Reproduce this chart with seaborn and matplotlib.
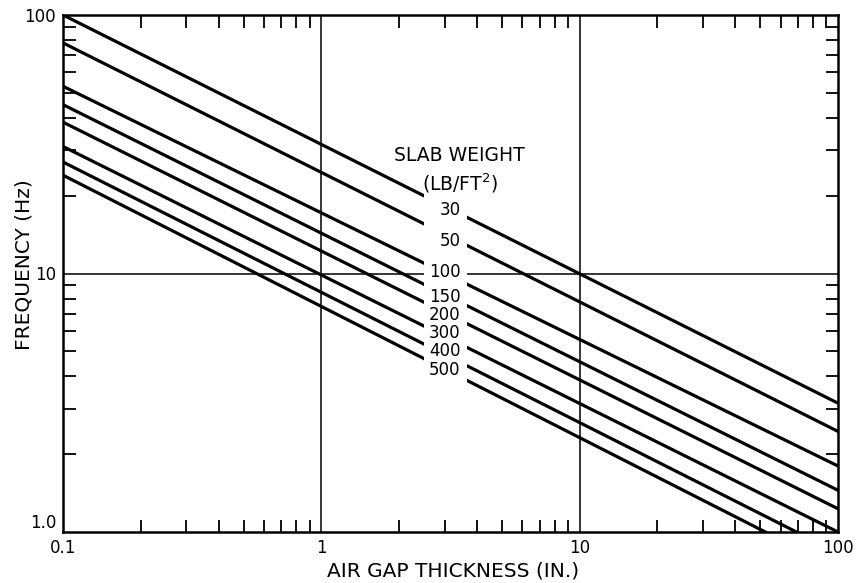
import matplotlib
matplotlib.use("Agg")
import matplotlib.pyplot as plt
import seaborn as sns
import pandas as pd
from matplotlib.ticker import FixedLocator, NullFormatter, LogLocator

# ---- data ----
slab_weights = [30, 50, 100, 150, 200, 300, 400, 500]          # LB/FT^2
gap_ends = [0.1, 100]                                           # air gap thickness (in.)
freq_at_0_1 = [100, 78, 53, 45, 38.5, 31, 27, 24]               # Hz at 0.1 in.
freq_at_100 = [3.15, 2.45, 1.8, 1.45, 1.23, 1.0, 0.83, 0.72]    # Hz at 100 in.
label_text = ["30", "50", "100", "150", "200", "300", "400", "500"]
x_ticks = [0.1, 1, 10, 100]
x_ticklabels = ["0.1", "1", "10", "100"]
y_ticks = [1, 10, 100]
y_ticklabels = ["1.0", "10", "100"]

rows = []
for w, f0, f1 in zip(slab_weights, freq_at_0_1, freq_at_100):
    rows.append({"gap": gap_ends[0], "freq": f0, "weight": w})
    rows.append({"gap": gap_ends[1], "freq": f1, "weight": w})
df = pd.DataFrame(rows)

sns.set_theme(style="white")
plt.rcParams["font.family"] = ["DejaVu Sans"]

fig = plt.figure(figsize=(8.56, 5.83), dpi=100)
ax = fig.add_axes([63 / 856, 51 / 583, 775 / 856, 517 / 583])
ax.set_xscale("log")
ax.set_yscale("log")

sns.lineplot(data=df, x="gap", y="freq", units="weight", estimator=None,
             color="black", lw=2.3, ax=ax, legend=False, zorder=2)

ax.set_xlim(0.1, 100)
ax.set_ylim(1, 100)

# grid at decades
for xv in [1, 10]:
    ax.axvline(xv, color="black", lw=1.1, zorder=1)
ax.axhline(10, color="black", lw=1.1, zorder=1)

# white gap where the labels sit
ax.axvspan(2.5, 3.65, ymin=0.279, ymax=0.66, color="white", lw=0, zorder=3)

# labels in the gaps
label_x = [3.15, 3.15, 3.0, 3.0, 3.0, 3.0, 3.0, 3.0]
label_y = [17.6, 13.4, 10.1, 8.11, 6.91, 5.88, 5.01, 4.23]
for t, lx, ly in zip(label_text, label_x, label_y):
    ax.text(lx, ly, t, ha="center", va="center", fontsize=12, color="black", zorder=4)

ax.text(0.512, 0.729, "SLAB WEIGHT", transform=ax.transAxes, ha="center", va="center",
        fontsize=13.5, color="black", zorder=4)
ax.text(0.512, 0.675, "(LB/FT$^2$)", transform=ax.transAxes, ha="center", va="center",
        fontsize=13.5, color="black", zorder=4)

# ticks
ax.xaxis.set_major_locator(FixedLocator(x_ticks))
ax.set_xticklabels(x_ticklabels)
ax.yaxis.set_major_locator(FixedLocator(y_ticks))
ax.set_yticklabels(y_ticklabels)
ax.xaxis.set_minor_locator(LogLocator(base=10, subs=range(2, 10)))
ax.yaxis.set_minor_locator(LogLocator(base=10, subs=range(2, 10)))
ax.xaxis.set_minor_formatter(NullFormatter())
ax.yaxis.set_minor_formatter(NullFormatter())
ax.tick_params(which="minor", direction="in", length=9, width=1.3, color="black",
               top=True, right=True, bottom=True, left=True)
ax.tick_params(which="major", direction="in", length=0, labelsize=12, labelcolor="black",
               pad=5, top=True, right=True, bottom=True, left=True)
ax.yaxis.get_major_ticks()[0].label1.set_va("bottom")
for sp in ax.spines.values():
    sp.set_color("black")
    sp.set_linewidth(1.8)

ax.set_xlabel("")
ax.set_ylabel("")
fig.text(453 / 856, 1 - 571 / 583, "AIR GAP THICKNESS (IN.)", ha="center", va="center",
         fontsize=14.5, color="black")
fig.text(24 / 856, 1 - 265 / 583, "FREQUENCY (Hz)", ha="center", va="center",
         rotation=90, fontsize=14.5, color="black")

fig.savefig("out.png", dpi=100, facecolor="white")
